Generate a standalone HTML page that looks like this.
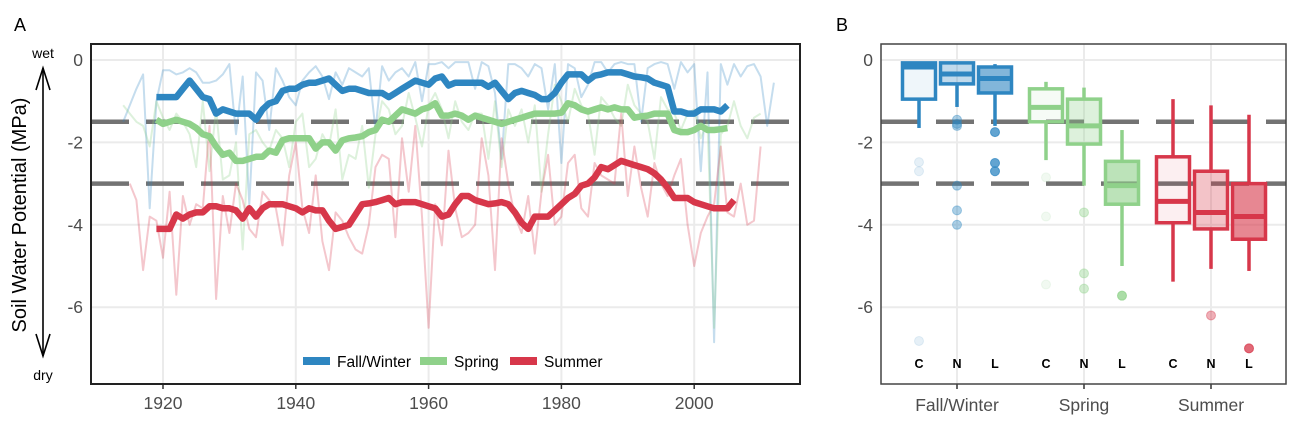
<!DOCTYPE html>
<html><head><meta charset="utf-8"><style>
body{margin:0;background:#fff;width:1300px;height:422px;overflow:hidden;font-family:"Liberation Sans",sans-serif}
svg text{font-family:"Liberation Sans",sans-serif}
</style></head><body>
<svg id="chart" width="1300" height="422" viewBox="0 0 1300 422" xmlns="http://www.w3.org/2000/svg">
<text x="14" y="31" font-size="18" fill="#000">A</text>
<text x="836" y="31" font-size="18" fill="#000">B</text>
<g id="pa"></g>
<g id="pb"></g>
<text transform="translate(26,215) rotate(-90)" text-anchor="middle" font-size="20" fill="#000">Soil Water Potential (MPa)</text>
<text x="43" y="58" text-anchor="middle" font-size="14">wet</text>
<text x="43" y="380" text-anchor="middle" font-size="14">dry</text>
<g stroke="#000" stroke-width="1.6" fill="none">
<line x1="43" y1="68" x2="43" y2="356"/><polyline points="36,90 43,68 50,90"/><polyline points="36,334 43,356 50,334"/></g>
</svg>
<script>
const NS="http://www.w3.org/2000/svg";
const seasons=["Fall/Winter","Spring","Summer"];
const colors=["#2e86c1","#8fd18a","#d7374a"];
const yTicks=[0,-2,-4,-6];
const xTicks=[1920,1940,1960,1980,2000];
const thresholds=[-1.5,-3];
const smoothStart=1919;
const fwSmooth=[-0.9,-0.9,-0.9,-0.9,-0.7,-0.5,-0.7,-0.9,-0.95,-1.3,-1.2,-1.25,-1.3,-1.3,-1.3,-1.45,-1.2,-1.05,-1.0,-0.75,-0.7,-0.7,-0.6,-0.55,-0.55,-0.5,-0.45,-0.6,-0.75,-0.7,-0.7,-0.75,-0.8,-0.8,-0.8,-0.9,-0.8,-0.7,-0.6,-0.5,-0.55,-0.6,-0.45,-0.4,-0.62,-0.55,-0.55,-0.55,-0.55,-0.55,-0.65,-0.55,-0.75,-0.95,-0.8,-0.75,-0.8,-0.85,-0.95,-0.95,-0.8,-0.55,-0.35,-0.35,-0.35,-0.5,-0.38,-0.35,-0.3,-0.3,-0.3,-0.35,-0.4,-0.42,-0.45,-0.55,-0.6,-0.65,-1.25,-1.25,-1.3,-1.3,-1.2,-1.2,-1.2,-1.25,-1.1];
const spSmooth=[-1.45,-1.55,-1.5,-1.45,-1.5,-1.55,-1.65,-1.8,-1.85,-2.1,-2.3,-2.25,-2.45,-2.45,-2.4,-2.35,-2.35,-2.2,-2.25,-1.95,-1.9,-1.9,-1.9,-1.9,-2.15,-2.0,-2.0,-2.2,-1.95,-1.9,-1.88,-1.85,-1.75,-1.7,-1.45,-1.5,-1.35,-1.2,-1.25,-1.3,-1.2,-1.15,-1.05,-1.35,-1.35,-1.3,-1.35,-1.45,-1.35,-1.4,-1.45,-1.5,-1.55,-1.5,-1.45,-1.4,-1.35,-1.3,-1.3,-1.3,-1.3,-1.28,-1.05,-1.1,-1.2,-1.25,-1.2,-1.15,-1.2,-1.15,-1.2,-1.2,-1.4,-1.37,-1.35,-1.3,-1.3,-1.3,-1.7,-1.75,-1.75,-1.7,-1.6,-1.7,-1.7,-1.68,-1.65];
const suSmooth=[-4.1,-4.1,-4.1,-3.75,-3.85,-3.75,-3.7,-3.7,-3.55,-3.55,-3.6,-3.6,-3.65,-3.85,-3.6,-3.8,-3.6,-3.5,-3.5,-3.5,-3.55,-3.6,-3.7,-3.6,-3.65,-3.65,-3.9,-4.1,-4.05,-4.0,-3.75,-3.5,-3.48,-3.45,-3.4,-3.35,-3.5,-3.45,-3.45,-3.45,-3.5,-3.55,-3.6,-3.8,-3.75,-3.5,-3.3,-3.3,-3.4,-3.45,-3.5,-3.48,-3.45,-3.5,-3.7,-3.95,-4.1,-3.8,-3.8,-3.8,-3.65,-3.5,-3.35,-3.25,-3.05,-3.0,-2.85,-2.6,-2.65,-2.55,-2.45,-2.5,-2.55,-2.6,-2.65,-2.75,-2.9,-3.1,-3.35,-3.35,-3.35,-3.45,-3.5,-3.55,-3.6,-3.6,-3.6,-3.4];
const fwStart=1914;
const fwAnnual=[-1.5,-1.1,-0.7,-0.35,-3.6,-1.0,-0.25,-0.25,-0.35,-0.3,-0.2,-0.3,-0.55,-0.55,-0.5,-0.35,-0.1,-1.8,-0.4,-3.5,-0.3,-0.5,-1.7,-0.2,-0.5,-0.9,-1.1,-0.5,-0.3,-0.15,-0.4,-0.95,-0.3,-0.6,-0.2,-0.3,-0.4,-0.2,-1.7,-0.15,-0.5,-0.3,-0.2,-0.4,-0.05,-1.0,-0.1,-0.1,-0.05,-0.2,-0.05,-0.05,-0.05,-0.7,-0.05,-0.15,-0.8,-2.4,-0.1,-0.1,-0.2,-0.4,-0.1,-0.2,-1.2,-0.1,-2.5,-0.1,-0.2,-0.9,-0.6,-0.05,-0.05,-0.3,-0.1,-0.05,-0.1,-0.1,-1.5,-0.2,-0.1,-0.05,-0.1,-0.7,-0.05,-0.3,-0.1,-2.7,-0.3,-6.85,-0.1,-0.6,-0.1,-0.4,-0.15,-0.1,-0.4,-1.6,-0.55];
const spStart=1914;
const spAnnual=[-1.1,-1.3,-1.5,-1.6,-2.1,-1.0,-1.4,-1.7,-1.3,-1.5,-1.8,-2.6,-1.0,-2.7,-1.2,-2.9,-2.8,-2.0,-4.6,-1.8,-1.7,-2.0,-2.2,-1.7,-1.9,-2.6,-1.5,-1.3,-2.6,-2.4,-1.8,-2.1,-1.2,-2.9,-2.3,-2.4,-1.6,-3.1,-1.8,-1.0,-1.2,-1.8,-1.6,-0.8,-1.4,-2.1,-1.1,-0.8,-1.2,-1.9,-1.0,-1.5,-1.7,-1.3,-1.3,-2.4,-1.0,-2.6,-1.2,-1.6,-1.2,-2.0,-1.1,-3.2,-1.8,-0.6,-1.0,-1.5,-0.7,-1.1,-1.3,-2.3,-0.9,-1.1,-1.4,-1.6,-0.6,-1.1,-1.3,-1.5,-2.4,-0.9,-1.2,-1.3,-1.7,-1.3,-1.2,-1.9,-1.5,-6.5,-1.8,-1.6,-1.0,-1.6,-1.9,-1.4,-1.3];
const suStart=1915;
const suAnnual=[-3.0,-3.4,-5.1,-3.8,-3.9,-4.8,-3.2,-5.7,-3.3,-4.0,-3.5,-3.6,-1.6,-5.8,-3.3,-4.2,-3.0,-3.4,-4.1,-4.3,-3.2,-3.4,-3.6,-4.5,-2.8,-2.0,-3.6,-4.2,-2.8,-4.4,-5.1,-3.7,-3.9,-4.3,-4.6,-4.7,-4.0,-2.6,-2.3,-2.4,-4.3,-1.9,-3.2,-1.6,-3.8,-6.5,-3.5,-4.5,-2.2,-3.6,-4.3,-4.2,-4.0,-1.9,-2.8,-5.1,-1.9,-3.0,-3.8,-4.2,-3.3,-4.7,-3.2,-2.3,-4.0,-3.8,-2.5,-2.3,-3.6,-3.8,-2.5,-2.8,-2.9,-3.0,-1.3,-3.3,-2.1,-3.1,-3.8,-2.5,-3.0,-3.3,-2.8,-2.4,-4.0,-5.0,-4.2,-3.8,-3.5,-2.1,-3.7,-3.8,-3.0,-4.0,-3.9,-2.1];
// Panel B box stats: [whiskerLow, q1, median, q3, whiskerHigh]
const groups=["C","N","L"];
const fwBoxes=[[-1.65,-0.95,-0.17,-0.07,-0.05],[-1.14,-0.58,-0.34,-0.07,-0.05],[-1.6,-0.8,-0.45,-0.17,-0.1]];
const spBoxes=[[-2.43,-1.5,-1.15,-0.7,-0.53],[-3.05,-2.04,-1.6,-0.95,-0.67],[-5.0,-3.5,-3.05,-2.46,-1.7]];
const suBoxes=[[-5.38,-3.95,-3.43,-2.35,-0.95],[-5.07,-4.1,-3.7,-2.7,-1.1],[-5.12,-4.35,-3.8,-3.0,-1.33]];
const fwOutliers=[[-2.48,-2.7,-6.82],[-1.45,-1.55,-1.6,-3.05,-3.65,-4.0],[-1.75,-2.5,-2.7]];
const spOutliers=[[-2.85,-3.8,-5.45],[-3.7,-5.18,-5.55],[-5.72]];
const suOutliers=[[],[-6.2],[-7.0]];

const svg=document.getElementById('chart');
function mk(parent,tag,attrs){const e=document.createElementNS(NS,tag);for(const k in attrs)e.setAttribute(k,attrs[k]);parent.appendChild(e);return e;}
const Y=v=>60-v*41.2;
const X=yr=>163+(yr-1920)*6.64;
const pa=document.getElementById('pa'),pb=document.getElementById('pb');
function grid(g,x0,x1){
  yTicks.forEach(t=>{const l=mk(g,'line',{x1:x0,x2:x1,y1:Y(t),y2:Y(t),stroke:'#ebebeb','stroke-width':2});
  
  
  const tx=mk(g,'text',{x:x0-8,y:Y(t)+6,'text-anchor':'end','font-size':17.5,fill:'#4d4d4d'});tx.textContent=t;
  
  });
}
function thr(g,x0,x1){thresholds.forEach(t=>{const l=mk(g,'line',{x1:x0,x2:x1,y1:Y(t),y2:Y(t),stroke:'#737373','stroke-width':4.5,'stroke-dasharray':'38 17'});
  
  });}
// panel A
grid(pa,91,800);
xTicks.forEach(t=>{const l=mk(pa,'line',{x1:X(t),x2:X(t),y1:44,y2:384,stroke:'#ebebeb','stroke-width':2});
  
  
  mk(pa,'line',{x1:X(t),x2:X(t),y1:384,y2:389,stroke:'#333','stroke-width':1.5});
  const tx=mk(pa,'text',{x:X(t),y:409,'text-anchor':'middle','font-size':17.5,fill:'#4d4d4d'});tx.textContent=t;
  
  });
thr(pa,91,800);
function line(g,start,vals,color,w,op,name){const pts=vals.map((v,i)=>X(start+i).toFixed(1)+','+Y(v).toFixed(1)).join(' ');
  const p=mk(g,'polyline',{points:pts,fill:'none',stroke:color,'stroke-width':w,opacity:op,'stroke-linejoin':'round'});
  
  }
line(pa,fwStart,fwAnnual,colors[0],2,0.28,'fall-winter-annual-line');
line(pa,spStart,spAnnual,colors[1],2,0.3,'spring-annual-line');
line(pa,suStart,suAnnual,colors[2],2,0.28,'summer-annual-line');
line(pa,smoothStart,fwSmooth,colors[0],6.5,1,'fall-winter-smoothed-line');
line(pa,smoothStart,spSmooth,colors[1],6.5,1,'spring-smoothed-line');
line(pa,smoothStart,suSmooth,colors[2],6.5,1,'summer-smoothed-line');
mk(pa,'rect',{x:91,y:44,width:709,height:340,fill:'none',stroke:'#222','stroke-width':2});
const legX=[303,420,510];
seasons.forEach((s,i)=>{const r=mk(pa,'rect',{x:legX[i],y:357,width:27,height:8,fill:colors[i]});
  
  
  const t=mk(pa,'text',{x:legX[i]+34,y:367,'font-size':15.5,fill:'#000'});t.textContent=s;
  
  });
// panel B
grid(pb,881,1286);
const gx=[957,1084,1211];
gx.forEach((x,i)=>{const l=mk(pb,'line',{x1:x,x2:x,y1:44,y2:384,stroke:'#ebebeb','stroke-width':2});
  
  
  mk(pb,'line',{x1:x,x2:x,y1:384,y2:389,stroke:'#333','stroke-width':1.5});
  const t=mk(pb,'text',{x:x,y:411,'text-anchor':'middle','font-size':17.5,fill:'#4d4d4d'});t.textContent=seasons[i];
  
  });
thr(pb,881,1286);
const allBoxes=[fwBoxes,spBoxes,suBoxes],allOut=[fwOutliers,spOutliers,suOutliers];
const fillOp=[0.08,0.3,0.6],outOp=[0.12,0.4,0.75];
allBoxes.forEach((bs,si)=>bs.forEach((b,gi)=>{
  const cx=gx[si]+(gi-1)*38,c=colors[si];
  mk(pb,'line',{x1:cx,x2:cx,y1:Y(b[0]),y2:Y(b[1]),stroke:c,'stroke-width':3.5});
  mk(pb,'line',{x1:cx,x2:cx,y1:Y(b[3]),y2:Y(b[4]),stroke:c,'stroke-width':3.5});
  const r=mk(pb,'rect',{x:cx-16.5,y:Y(b[3]),width:33,height:Y(b[1])-Y(b[3]),fill:c,'fill-opacity':fillOp[gi],stroke:c,'stroke-width':3.5});
  
  
  mk(pb,'line',{x1:cx-16.5,x2:cx+16.5,y1:Y(b[2]),y2:Y(b[2]),stroke:c,'stroke-width':5});
  allOut[si][gi].forEach(v=>{const o=mk(pb,'circle',{cx:cx,cy:Y(v),r:4.5,fill:c,'fill-opacity':outOp[gi],stroke:c,'stroke-opacity':outOp[gi]});
    
    });
  const t=mk(pb,'text',{x:cx,y:368,'text-anchor':'middle','font-size':12.5,'font-weight':'bold',fill:'#000'});t.textContent=groups[gi];
  
  
}));
mk(pb,'rect',{x:881,y:44,width:405,height:340,fill:'none',stroke:'#444','stroke-width':1.5});
</script>
</body></html>
